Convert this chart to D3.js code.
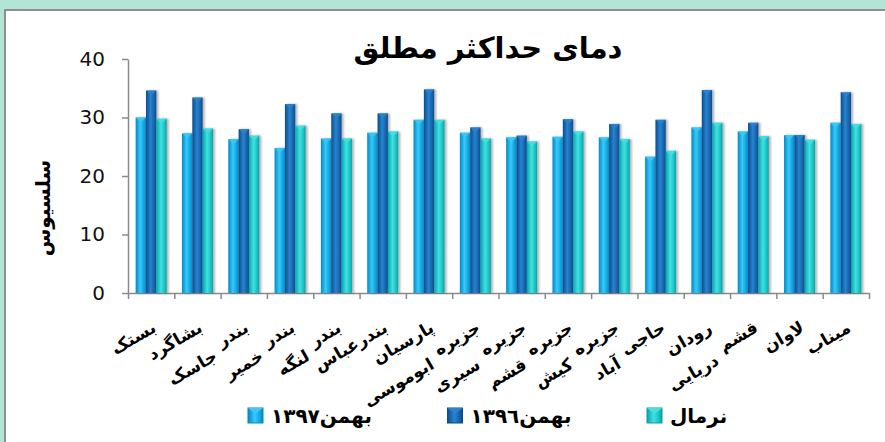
<!DOCTYPE html>
<html>
<head>
<meta charset="utf-8">
<script src="https://cdn.jsdelivr.net/npm/d3@7"></script>
<style>
    body { margin: 0; background: #b3e5d7; }
    text { font-family: "DejaVu Sans", sans-serif; }
</style>
</head>
<body>
<div id="chart"></div>
<script>
// stations (category axis)
const categories = ["بستک", "بشاگرد", "بندر جاسک", "بندر خمیر", "بندر لنگه", "بندرعباس", "پارسیان",
    "جزیره ابوموسی", "جزیره سیری", "جزیره قشم", "جزیره کیش", "حاجی آباد", "رودان", "قشم دریایی", "لاوان", "میناب"];
// series values
const bahman1397 = [30.0, 27.3, 26.3, 24.8, 26.4, 27.4, 29.6, 27.4, 26.6, 26.7, 26.6, 23.3, 28.3, 27.6, 27.0, 29.1];
const bahman1396 = [34.6, 33.4, 28.0, 32.3, 30.7, 30.7, 34.8, 28.3, 26.9, 29.7, 28.9, 29.6, 34.7, 29.1, 27.0, 34.3];
const normal     = [29.8, 28.1, 26.9, 28.6, 26.4, 27.6, 29.6, 26.4, 25.9, 27.6, 26.3, 24.3, 29.1, 26.8, 26.2, 28.9];
const seriesNames = ["بهمن١٣٩٧", "بهمن١٣٩٦", "نرمال"];
const yTicks = [0, 10, 20, 30, 40];

const titleText = "دمای حداکثر مطلق";
const yTitle = "سلسیوس";

const width = 885, height = 442;
const margin = { top: 59, right: 16, bottom: 149, left: 128 };
const plotW = width - margin.left - margin.right;
const plotH = height - margin.top - margin.bottom;

const series = [
    { name: seriesNames[0], values: bahman1397, edge: "#0a86bd", base: "#0aa6e2", light: "#40c6f4" },
    { name: seriesNames[1], values: bahman1396, edge: "#0c4c8a", base: "#1462ac", light: "#2a83cc" },
    { name: seriesNames[2], values: normal,     edge: "#0d9ea3", base: "#15c2c6", light: "#45dfe0" }
];

const svg = d3.select("#chart").append("svg")
    .attr("width", width)
    .attr("height", height);

const defs = svg.append("defs");
series.forEach((s, i) => {
    const g = defs.append("linearGradient").attr("id", "grad" + i)
        .attr("x1", "0").attr("x2", "1").attr("y1", "0").attr("y2", "0");
    g.append("stop").attr("offset", "0%").attr("stop-color", s.edge);
    g.append("stop").attr("offset", "18%").attr("stop-color", s.base);
    g.append("stop").attr("offset", "45%").attr("stop-color", s.light);
    g.append("stop").attr("offset", "80%").attr("stop-color", s.base);
    g.append("stop").attr("offset", "100%").attr("stop-color", s.edge);
});
const shadow = defs.append("filter").attr("id", "shadow")
    .attr("x", "-20%").attr("y", "-5%").attr("width", "160%").attr("height", "110%");
shadow.append("feDropShadow").attr("dx", 2).attr("dy", 0).attr("stdDeviation", 1)
    .attr("flood-color", "#000").attr("flood-opacity", 0.3);

// outer frame
svg.append("rect").attr("x", 5).attr("y", 10).attr("width", width).attr("height", height)
    .attr("fill", "#fff").attr("stroke", "#8e8e8e").attr("stroke-width", 2);

// scales
const x = d3.scaleBand().domain(categories)
    .range([margin.left, margin.left + plotW])
    .paddingInner(0.33).paddingOuter(0.165);
const xs = d3.scaleBand().domain(d3.range(series.length)).range([0, x.bandwidth()]);
const y = d3.scaleLinear().domain([0, 40]).range([margin.top + plotH, margin.top]);
const xEdges = d3.scaleLinear().domain([0, categories.length]).range([margin.left, margin.left + plotW]);

// y axis
const yAxis = svg.append("g")
    .attr("transform", `translate(${margin.left},0)`)
    .call(d3.axisLeft(y).tickValues(yTicks).tickSize(6).tickSizeOuter(0).tickPadding(17));
yAxis.selectAll("path, line").attr("stroke", "#8a8a8a").attr("stroke-width", 1.5);
yAxis.selectAll("text").attr("font-size", 20).attr("fill", "#111")
    .attr("font-family", "DejaVu Sans");

// x axis (tick marks at category boundaries)
const xAxis = svg.append("g")
    .attr("transform", `translate(0,${margin.top + plotH})`)
    .call(d3.axisBottom(xEdges).ticks(categories.length).tickFormat("").tickSize(6).tickSizeOuter(0));
xAxis.selectAll("path, line").attr("stroke", "#8a8a8a").attr("stroke-width", 1.5);

// bars
series.forEach((s, si) => {
    const g = svg.append("g").attr("filter", "url(#shadow)");
    const bw = xs.bandwidth();
    g.selectAll("rect")
        .data(s.values)
        .enter()
        .append("rect")
        .attr("x", (d, i) => x(categories[i]) + xs(si))
        .attr("y", d => y(d))
        .attr("width", bw)
        .attr("height", d => y(0) - y(d))
        .attr("fill", `url(#grad${si})`);
    // bevel cap on top of each bar
    svg.append("g").selectAll("path")
        .data(s.values)
        .enter()
        .append("path")
        .attr("d", (d, i) => {
            const x0 = x(categories[i]) + xs(si), y0 = y(d);
            return `M${x0},${y0}L${x0 + bw},${y0}L${x0 + bw / 2},${y0 + 5}Z`;
        })
        .attr("fill", s.light)
        .attr("opacity", 0.85);
});

// category labels, rotated, up to two lines
const labels = svg.append("g").attr("font-weight", "bold").attr("font-size", 17).attr("fill", "#000");
const rad = 30 * Math.PI / 180;
categories.forEach(c => {
    const lines = c.split(" ");
    const ax = x(c) + x.bandwidth() / 2 + 6, ay = 331;
    const t1 = labels.append("text")
        .attr("transform", `translate(${ax},${ay}) rotate(-30)`)
        .attr("text-anchor", "end")
        .text(lines[0]);
    if (lines.length > 1) {
        // second line hangs below-left of the first line's start
        const w1 = t1.node().getComputedTextLength();
        const lx = ax - w1 * Math.cos(rad) - 3;
        const ly = ay + w1 * Math.sin(rad) + 12;
        labels.append("text")
            .attr("transform", `translate(${lx},${ly}) rotate(-30)`)
            .attr("text-anchor", "end")
            .text(lines[1]);
    }
});

// titles
svg.append("text")
    .attr("x", 488).attr("y", 58)
    .attr("text-anchor", "middle")
    .attr("font-size", 29).attr("font-weight", "bold")
    .text(titleText);

svg.append("text")
    .attr("transform", `translate(50,208) rotate(-90)`)
    .attr("text-anchor", "middle")
    .attr("font-size", 20).attr("font-weight", "bold")
    .text(yTitle);

// legend
const legend = svg.append("g");
series.forEach((s, i) => {
    const lx = 248 + i * 199.5;
    legend.append("rect")
        .attr("x", lx).attr("y", 408).attr("width", 15).attr("height", 15)
        .attr("fill", `url(#grad${i})`).attr("stroke", s.edge).attr("stroke-width", 1);
    legend.append("path")
        .attr("d", `M${lx},${408}L${lx + 15},${408}L${lx + 7.5},${414}Z`)
        .attr("fill", s.light);
    legend.append("text")
        .attr("x", lx + 23).attr("y", 423)
        .attr("font-size", 20).attr("font-weight", "bold")
        .text(s.name);
});
</script>
</body>
</html>
